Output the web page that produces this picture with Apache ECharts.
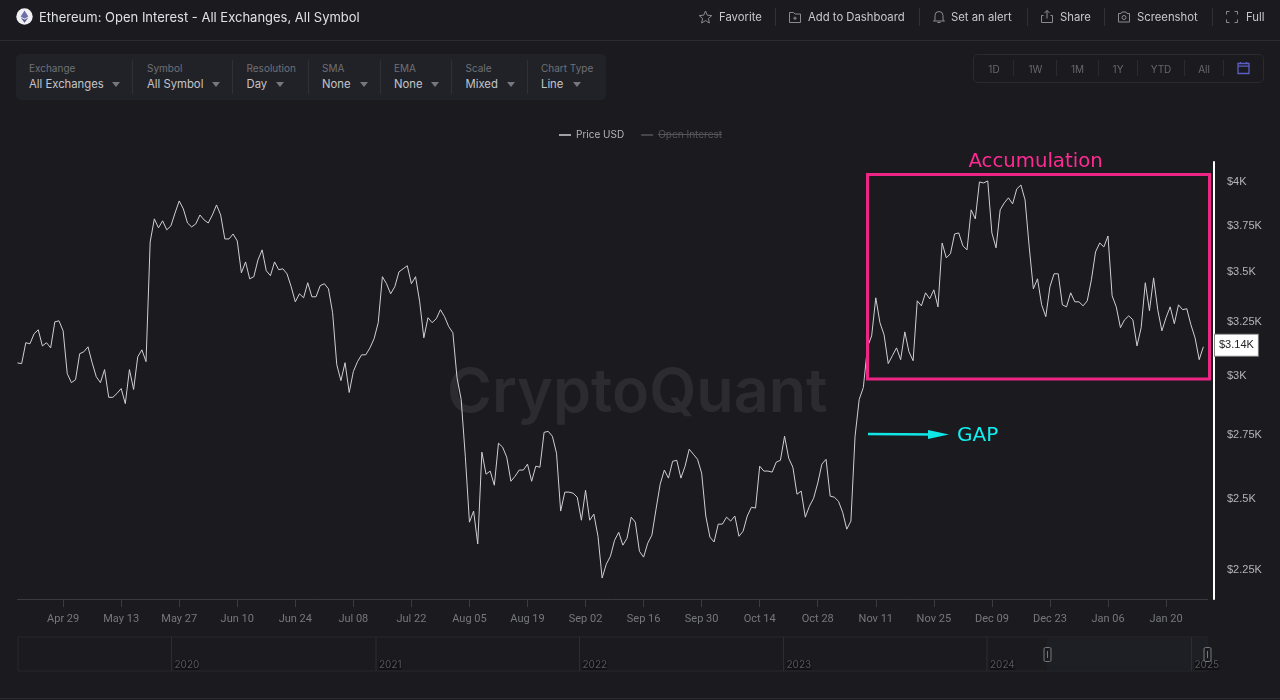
<!DOCTYPE html>
<html><head><meta charset="utf-8">
<script src="https://cdn.jsdelivr.net/npm/echarts@6/dist/echarts.min.js"></script>
<style>
html,body{margin:0;padding:0;background:#1a1a1f;width:1280px;height:700px;overflow:hidden;font-family:Inter,"Noto Sans",sans-serif}
#chart{position:absolute;left:0;top:0;width:1280px;height:700px}
.t{position:absolute;white-space:nowrap;line-height:14px}
.d{position:absolute;width:1px;background:#303138}
.a{position:absolute;width:0;height:0;border-left:4px solid transparent;border-right:4px solid transparent;border-top:5px solid #77787e}
svg{position:absolute;fill:none;stroke:#8a8b90;stroke-width:1}
</style></head><body>
<div id="chart"></div>
<div id="chrome"></div>
<script>
const priceUSD = [3059,3056,3152,3147,3194,3213,3137,3152,3128,3251,3256,3208,3011,2971,2984,3101,3110,3133,3060,2997,2971,3029,2907,2907,2924,2945,2880,3029,2941,3087,3119,3065,
3660,3787,3737,3776,3726,3748,3820,3889,3843,3764,3742,3759,3809,3781,3764,3809,3866,3809,3676,3676,3703,3665,3496,3553,3465,3476,3564,3617,3507,3481,3553,3512,3517,3491,3425,3349,3389,3369,3445,3374,3374,3430,3440,3414,3295,3051,2980,3060,2928,3020,3065,3096,3096,3128,3171,3247,3476,3440,3389,3425,3501,3517,3533,3440,3476,3349,3175,3271,3247,3266,3310,3276,3228,3199,2993,2898,2664,2416,2456,2339,2680,2594,2606,2552,2716,2700,2660,2567,2586,2610,2610,2633,2567,2625,2621,2760,2764,2744,2676,2456,2526,2526,2522,2507,2423,2533,2423,2445,2366,2224,2270,2297,2352,2380,2335,2359,2434,2416,2314,2294,2342,2370,2463,2556,2610,2579,2644,2648,2579,2625,2692,2672,2652,2598,2438,2363,2346,2409,2409,2434,2420,2438,2366,2384,2438,2470,2467,2625,2606,2606,2602,2641,2648,2744,2656,2621,2518,2530,2434,2474,2503,2560,2633,2652,2511,2507,2492,2452,2391,2420,2744,2898,2950,3133,3184,3369,3247,3189,3056,3092,3128,3074,3203,3110,3069,3354,3329,3394,3364,3409,3324,3654,3575,3596,3703,3709,3639,3617,3838,3787,4000,3994,4006,3709,3628,3838,3878,3907,3872,3959,3982,3895,3633,3414,3465,3334,3276,3425,3491,3491,3334,3324,3394,3349,3349,3329,3354,3460,3606,3654,3633,3692,3379,3324,3223,3261,3280,3261,3137,3223,3445,3305,3470,3310,3208,3271,3324,3242,3334,3310,3315,3237,3175,3074,3133];
const openInterest = [];
const yTicks = [2250,2500,2750,3000,3250,3500,3750,4000];
const lastPrice = 3140;
const monthNames = ['Jan','Feb','Mar','Apr','May','Jun','Jul','Aug','Sep','Oct','Nov','Dec'];
const categories = [];
for (let i = 0; i < 288; i++) {
  const d = new Date(Date.UTC(2024, 3, 18 + i));
  categories.push(monthNames[d.getUTCMonth()] + ' ' + String(d.getUTCDate()).padStart(2, '0'));
}
const years = [['2020',171.5],['2021',376],['2022',579.5],['2023',783.5],['2024',987],['2025',1191.5]];
const fmt = v => '$' + +(v / 1000).toFixed(2) + 'K';
const FONT = 'Inter';
const everyTwoWeeks = i => (i - 11) % 14 === 0;

const gfx = [
  {type:'text',z:-1,left:447,top:363,style:{text:'CryptoQuant',fill:'#2b2b30',font:'600 61px Inter'}},
  {type:'rect',z:10,shape:{x:867.5,y:174.5,width:342,height:204.5},style:{fill:'none',stroke:'#ee2585',lineWidth:3}},
  {type:'text',z:10,left:968.5,top:152,style:{text:'Accumulation',fill:'#ff2a92',font:'19.7px "DejaVu Sans"'}},
  {type:'line',z:10,shape:{x1:868,y1:434,x2:936,y2:434.5},style:{stroke:'#10e6e6',lineWidth:2.5}},
  {type:'polygon',z:10,shape:{points:[[928,430],[949,434.5],[928,439]]},style:{fill:'#10e6e6'}},
  {type:'text',z:10,left:957,top:426,style:{text:'GAP',fill:'#10f0f0',font:'20px "DejaVu Sans"'}},
  {type:'line',z:10,shape:{x1:658,y1:134.5,x2:722,y2:134.5},style:{stroke:'#55565c',lineWidth:1}},
  {type:'rect',shape:{x:18,y:637,width:1189,height:34},style:{fill:'none',stroke:'#26272c',lineWidth:1}},
  {type:'rect',shape:{x:1047,y:637.5,width:160,height:33.5},style:{fill:'#1e1f24'}}
];
years.forEach(y => {
  gfx.push({type:'line',shape:{x1:y[1],y1:637,x2:y[1],y2:671},style:{stroke:'#2d2e33',lineWidth:1}});
  gfx.push({type:'text',left:y[1]+3,top:660,style:{text:y[0],fill:'#55565c',font:'10px Inter',backgroundColor:'#121215'}});
});
[1047,1207].forEach(x => {
  gfx.push({type:'rect',z:5,shape:{x:x-3,y:647.5,width:7,height:14,r:1.5},style:{fill:'#1a1a1f',stroke:'#77787e',lineWidth:1}});
  gfx.push({type:'line',z:6,shape:{x1:x+.5,y1:651,x2:x+.5,y2:658},style:{stroke:'#77787e',lineWidth:1}});
});

const chart = echarts.init(document.getElementById('chart'));
chart.setOption({
  animation:false,
  backgroundColor:'#1a1a1f',
  textStyle:{fontFamily:FONT},
  legend:{
    top:125,left:554,itemWidth:12,itemHeight:1.5,itemGap:17,icon:'rect',
    textStyle:{color:'#b4b5b9',fontSize:10},inactiveColor:'#55565c',
    selected:{'Open Interest':false},
    data:['Price USD','Open Interest']
  },
  grid:{left:17.5,top:162,width:1190,height:437,containLabel:false},
  xAxis:{
    type:'category',data:categories,boundaryGap:false,
    axisLine:{lineStyle:{color:'#3a3b41',width:1}},
    axisTick:{interval:everyTwoWeeks,length:8,lineStyle:{color:'#3a3b41'}},
    axisLabel:{interval:everyTwoWeeks,color:'#77787e',fontSize:11,fontFamily:'Roboto',margin:15,hideOverlap:false},
    splitLine:{show:false}
  },
  yAxis:{
    type:'log',position:'right',offset:6.5,min:2156,max:4120,
    axisLine:{show:true,lineStyle:{color:'#ffffff',width:2}},
    axisTick:{show:false},
    axisLabel:{customValues:yTicks,formatter:fmt,color:'#b4b5b9',fontSize:11,fontFamily:'Liberation Sans',margin:13,padding:[6,0,0,0]},
    splitLine:{show:false},
    axisPointer:{show:true,value:lastPrice,status:'show',triggerTooltip:false,type:'none',lineStyle:{opacity:0},
      label:{show:true,formatter:p => fmt(p.value),backgroundColor:'#ffffff',color:'#222226',fontSize:11,fontFamily:'Liberation Sans',margin:1,padding:[5,4,5,4],borderRadius:0,borderWidth:1,borderColor:'#888'}}
  },
  series:[
    {name:'Price USD',type:'line',data:priceUSD,showSymbol:false,smooth:false,lineStyle:{color:'#d0d0d3',width:1},itemStyle:{color:'#d0d0d3'},z:3},
    {name:'Open Interest',type:'line',data:openInterest,showSymbol:false,lineStyle:{color:'#55565c',width:1},itemStyle:{color:'#55565c'}}
  ],
  graphic:gfx
});

/* page chrome */
const host = document.getElementById('chrome');
function add(html){ host.insertAdjacentHTML('beforeend', html); }
function text(x,cy,s,size,color,extra){ add(`<div class="t" style="left:${x}px;top:${cy-7}px;font-size:${size}px;color:${color};${extra||''}">${s}</div>`); }
function vbar(x,y,h,c){ add(`<div class="d" style="left:${x}px;top:${y}px;height:${h}px;${c?'background:'+c:''}"></div>`); }
add('<div style="position:absolute;left:0;top:40px;width:1280px;height:1px;background:#2b2c31"></div>');
add('<div style="position:absolute;left:0;top:698px;width:1280px;height:1px;background:#2b2c31"></div>');
add('<svg style="left:16px;top:8px;stroke:none" width="17" height="17"><circle cx="8.5" cy="8.5" r="8.2" fill="#f0f0f4"/><path d="M8.5 2.5L12.3 8.6L8.5 10.8L4.7 8.6Z" fill="#6b6fa8"/><path d="M8.5 11.7L12.3 9.5L8.5 14.7L4.7 9.5Z" fill="#4f5390"/></svg>');
text(39,17,'Ethereum: Open Interest - All Exchanges, All Symbol',13,'#dfe0e3','font-weight:400');
[[719,'Favorite'],[808,'Add to Dashboard'],[951,'Set an alert'],[1060,'Share'],[1137,'Screenshot'],[1246,'Full']].forEach(a=>text(a[0],17,a[1],11.3,'#c8c9cd'));
[775,919,1027,1104,1212].forEach(x=>vbar(x,8,18));
add('<svg style="left:698px;top:10px" width="15" height="14"><path d="M7.5 1L9.3 5.2L13.8 5.6L10.4 8.5L11.4 13L7.5 10.6L3.6 13L4.6 8.5L1.2 5.6L5.7 5.2Z"/></svg>');
add('<svg style="left:788px;top:10px" width="14" height="14"><path d="M1.5 2.5H5.5L7 4H12.5V12.5H1.5ZM7 6.5V10M5.2 8.2H8.8"/></svg>');
add('<svg style="left:932px;top:9px" width="14" height="15"><path d="M3 11V6.5A4 4 0 0 1 11 6.5V11L12.5 12H1.5ZM5.5 13.5H8.5"/></svg>');
add('<svg style="left:1040px;top:9px" width="14" height="15"><path d="M3.5 6.5H1.5V13.5H12.5V6.5H10.5M7 9.5V1.5M4.5 4L7 1.5L9.5 4"/></svg>');
add('<svg style="left:1117px;top:10px" width="14" height="14"><path d="M1.5 3.5H4L5 2H9L10 3.5H12.5V12H1.5Z"/><circle cx="7" cy="7.5" r="2"/></svg>');
add('<svg style="left:1225px;top:10px" width="14" height="14"><path d="M1.5 4.5V1.5H4.5M9.5 1.5H12.5V4.5M12.5 9.5V12.5H9.5M4.5 12.5H1.5V9.5"/></svg>');

add('<div style="position:absolute;left:16px;top:54px;width:590px;height:46px;background:#212227;border-radius:5px"></div>');
[[29,'Exchange','All Exchanges',112],[147,'Symbol','All Symbol',212],[246.5,'Resolution','Day',276],[322,'SMA','None',360],[394,'EMA','None',431],[465.5,'Scale','Mixed',507],[541,'Chart Type','Line',573]].forEach(a=>{
  text(a[0],67.5,a[1],10,'#6f7076');
  text(a[0],84,a[2],11.3,'#c4c5c9');
  add(`<div class="a" style="left:${a[3]}px;top:82px"></div>`);
});
[132,232,308,380,451,527].forEach(x=>vbar(x,60,34));

add('<div style="position:absolute;left:973px;top:54px;width:289px;height:27px;border:1px solid #2a2b30;border-radius:5px"></div>');
[[994,'1D'],[1035.5,'1W'],[1077.5,'1M'],[1118,'1Y'],[1161,'YTD'],[1204,'All']].forEach(a=>text(a[0],68.5,a[1],10,'#66676d','transform:translateX(-50%)'));
[1013,1056,1098,1137,1184,1223].forEach(x=>vbar(x,60,16,'#2a2b30'));
add('<svg style="left:1237px;top:61px;stroke:#5a5fc4;stroke-width:1.3" width="13" height="14"><path d="M1 2.5H12V12.5H1ZM1 5.2H12M3.5 1V3M9.5 1V3"/></svg>');
</script>
</body></html>
